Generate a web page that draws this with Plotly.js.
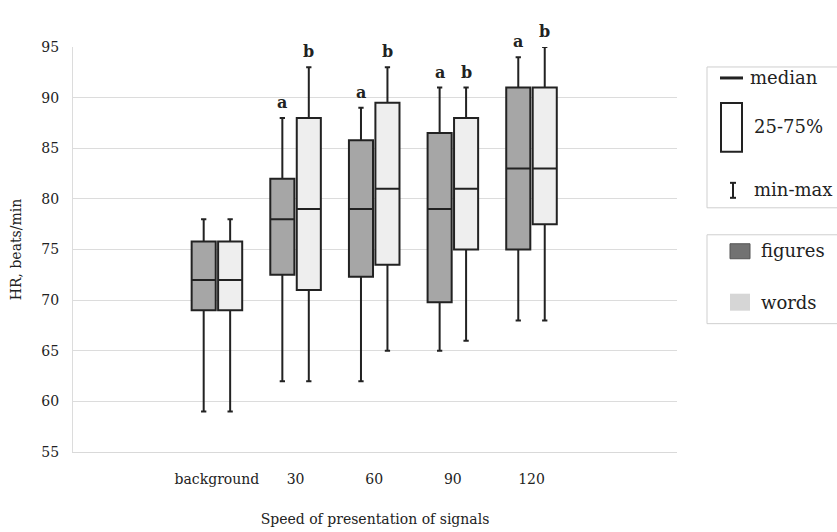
<!DOCTYPE html>
<html>
<head>
<meta charset="utf-8">
<script src="https://cdn.plot.ly/plotly-3.0.1.min.js"></script>
<style>html,body{margin:0;padding:0;background:#fff;}#chart{width:837px;height:532px;}</style>
</head>
<body>
<div id="chart"></div>
<script>
const categories = ['background', '30', '60', '90', '120'];
const figMin = [59, 62, 62, 65, 68];
const figQ1  = [69, 72.5, 72.3, 69.8, 75];
const figMed = [72, 78, 79, 79, 83];
const figQ3  = [75.8, 82, 85.8, 86.5, 91];
const figMax = [78, 88, 89, 91, 94];
const wordMin = [59, 62, 65, 66, 68];
const wordQ1  = [69, 71, 73.5, 75, 77.5];
const wordMed = [72, 79, 81, 81, 83];
const wordQ3  = [75.8, 88, 89.5, 88, 91];
const wordMax = [78, 93, 93, 91, 95];
const figLetters  = ['', 'a', 'a', 'a', 'a'];
const wordLetters = ['', 'b', 'b', 'b', 'b'];
const legendTop = ['median', '25-75%', 'min-max'];
const legendSeries = ['figures', 'words'];

const FONT = 'DejaVu Serif';
const INK = '#222222';

// pixel -> paper helpers (layout only)
const L = 73, R = 677, T = 47, B = 452.5;
const px = x => (x - L) / (R - L);
const py = y => (B - y) / (B - T);

const common = {
  type: 'box', x: categories, boxpoints: false, whiskerwidth: 0.22,
  line: {color: INK, width: 2}, showlegend: false, hoverinfo: 'y'
};
const traces = [
  Object.assign({}, common, {name: 'figures', q1: figQ1, median: figMed, q3: figQ3,
    lowerfence: figMin, upperfence: figMax, fillcolor: '#a6a6a6'}),
  Object.assign({}, common, {name: 'words', q1: wordQ1, median: wordMed, q3: wordQ3,
    lowerfence: wordMin, upperfence: wordMax, fillcolor: '#eeeeee'})
];

const annotations = [];
const OFF = 0.169;
categories.forEach((c, i) => {
  if (figLetters[i]) annotations.push({x: i - OFF, y: figMax[i], xref: 'x', yref: 'y', text: figLetters[i],
    showarrow: false, yanchor: 'bottom', yshift: 4, font: {family: FONT, size: 16, color: INK, weight: 'bold'}});
  if (wordLetters[i]) annotations.push({x: i + OFF, y: wordMax[i], xref: 'x', yref: 'y', text: wordLetters[i],
    showarrow: false, yanchor: 'bottom', yshift: 4, font: {family: FONT, size: 16, color: INK, weight: 'bold'}});
});
const legFont = {family: FONT, size: 18, color: INK};
[[748, 78], [752, 127], [752, 190]].forEach((p, i) => annotations.push({
  xref: 'paper', yref: 'paper', x: px(p[0]), y: py(p[1]), xanchor: 'left', yanchor: 'middle',
  text: legendTop[i], showarrow: false, font: legFont}));
[[759, 251], [759, 303]].forEach((p, i) => annotations.push({
  xref: 'paper', yref: 'paper', x: px(p[0]), y: py(p[1]), xanchor: 'left', yanchor: 'middle',
  text: legendSeries[i], showarrow: false, font: legFont}));

const shapes = [
  {type: 'rect', xref: 'paper', yref: 'paper', x0: px(707), x1: px(860), y0: py(67), y1: py(208), line: {color: '#cfcfcf', width: 1}},
  {type: 'rect', xref: 'paper', yref: 'paper', x0: px(707), x1: px(860), y0: py(235), y1: py(324), line: {color: '#cfcfcf', width: 1}},
  {type: 'line', xref: 'paper', yref: 'paper', x0: px(720), x1: px(743), y0: py(78), y1: py(78), line: {color: INK, width: 3}},
  {type: 'rect', xref: 'paper', yref: 'paper', x0: px(721), x1: px(742), y0: py(103), y1: py(152), line: {color: INK, width: 2}, fillcolor: '#ffffff'},
  {type: 'line', xref: 'paper', yref: 'paper', x0: px(733), x1: px(733), y0: py(183), y1: py(198), line: {color: INK, width: 2}},
  {type: 'line', xref: 'paper', yref: 'paper', x0: px(730), x1: px(736), y0: py(183), y1: py(183), line: {color: INK, width: 2}},
  {type: 'line', xref: 'paper', yref: 'paper', x0: px(730), x1: px(736), y0: py(198), y1: py(198), line: {color: INK, width: 2}},
  {type: 'rect', xref: 'paper', yref: 'paper', x0: px(730), x1: px(750), y0: py(244), y1: py(259), line: {color: '#555555', width: 1}, fillcolor: '#727272'},
  {type: 'rect', xref: 'paper', yref: 'paper', x0: px(730), x1: px(750), y0: py(294), y1: py(311), line: {width: 0}, fillcolor: '#d6d6d6'}
];

const layout = {
  width: 837, height: 532,
  margin: {l: L, r: 837 - R, t: T, b: 532 - B},
  paper_bgcolor: '#ffffff', plot_bgcolor: '#ffffff',
  font: {family: FONT, color: INK, size: 14},
  boxmode: 'group', boxgap: 0.327, boxgroupgap: 0.09,
  showlegend: false,
  xaxis: {
    type: 'category', range: [-1.83, 5.85], showgrid: false, zeroline: false,
    showline: true, linecolor: '#d9d9d9', linewidth: 1, ticks: '',
    ticklabelstandoff: 14, tickfont: {family: FONT, size: 14, color: INK},
    title: {text: 'Speed of presentation of signals', font: {family: FONT, size: 14, color: INK}, standoff: 28}
  },
  yaxis: {
    range: [55, 95], dtick: 5, tick0: 55, showgrid: true, gridcolor: '#dcdcdc', gridwidth: 1,
    zeroline: false, showline: true, linecolor: '#dcdcdc', ticks: '',
    ticklabelstandoff: 10, tickfont: {family: FONT, size: 14, color: INK},
    title: {text: 'HR, beats/min', font: {family: FONT, size: 14, color: INK}, standoff: 16}
  },
  annotations: annotations,
  shapes: shapes
};

Plotly.newPlot('chart', traces, layout, {staticPlot: true});
</script>
</body>
</html>
